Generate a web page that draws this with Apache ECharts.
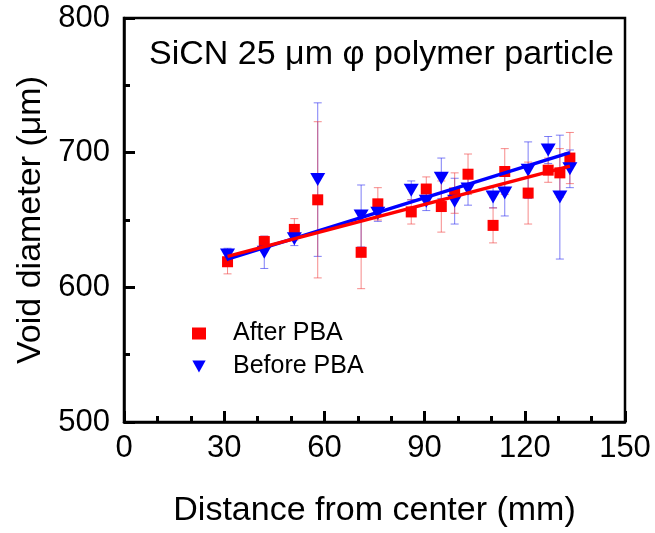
<!DOCTYPE html>
<html>
<head>
<meta charset="utf-8">
<script src="https://cdn.jsdelivr.net/npm/echarts@6/dist/echarts.min.js"></script>
<style>
html,body{margin:0;padding:0;background:#fff;}
#chart{width:655px;height:533px;}
</style>
</head>
<body>
<div id="chart"></div>
<script>
var distance = [31, 42, 51, 58, 71, 76, 86, 90.5, 95, 99, 103, 110.5, 114, 121, 127, 130.5, 133.5];
var afterPBA = [619, 634, 643, 665, 626, 662, 656, 673, 660, 670, 684, 646, 686, 670, 687, 685, 696];
var afterErr = [9, 4, 8, 58, 27, 12, 9, 9, 19, 15, 15, 13, 17, 23, 9, 18, 19];
var beforePBA = [624, 626, 636, 680, 653, 655, 672, 664, 681, 664, 673, 667, 670, 687, 702, 667, 688];
var beforeErr = [5, 12, 5, 57, 23, 6, 7, 7, 15, 17, 12, 8, 17, 21, 10, 46, 14];
var afterFit = [[31, 623], [133.5, 690]];
var beforeFit = [[31, 621], [133.5, 700]];
var xTicks = [0, 30, 60, 90, 120, 150];
var yTicks = [500, 600, 700, 800];

var FONT = 'Liberation Sans, Arial, sans-serif';
function pts(ys) { return distance.map(function (d, i) { return [d, ys[i]]; }); }
function errPts(ys, es) { return distance.map(function (d, i) { return [d, ys[i], es[i]]; }); }

function errRender(color) {
  return function (params, api) {
    var x = api.value(0), y = api.value(1), e = api.value(2);
    var hi = api.coord([x, y + e]);
    var lo = api.coord([x, y - e]);
    var cw = 4;
    var st = { stroke: color, lineWidth: 1 };
    return {
      type: 'group',
      children: [
        { type: 'line', shape: { x1: hi[0], y1: hi[1], x2: lo[0], y2: lo[1] }, style: st },
        { type: 'line', shape: { x1: hi[0] - cw, y1: hi[1], x2: hi[0] + cw, y2: hi[1] }, style: st },
        { type: 'line', shape: { x1: lo[0] - cw, y1: lo[1], x2: lo[0] + cw, y2: lo[1] }, style: st }
      ]
    };
  };
}

var downTri = 'path://M0,0 L10,0 L5,9 Z';

var chart = echarts.init(document.getElementById('chart'), null, { renderer: 'canvas' });
chart.setOption({
  animation: false,
  textStyle: { fontFamily: FONT },
  title: {
    text: 'SiCN 25 μm φ polymer particle',
    left: 144, top: 33,
    textStyle: { fontFamily: FONT, fontSize: 34, fontWeight: 'normal', color: '#000' }
  },
  legend: {
    orient: 'vertical',
    left: 187, top: 316,
    itemWidth: 14, itemHeight: 12, itemGap: 8,
    textStyle: { fontFamily: FONT, fontSize: 25, color: '#000', padding: [0, 0, 0, 22] },
    data: [
      { name: 'After PBA', icon: 'rect', itemStyle: { color: '#f00' } },
      { name: 'Before PBA', icon: downTri, itemStyle: { color: '#00f' } }
    ]
  },
  grid: {
    left: 124, right: 30, top: 18, bottom: 110,
    show: true, borderColor: '#000', borderWidth: 2.5, backgroundColor: 'transparent'
  },
  xAxis: {
    type: 'value', min: xTicks[0], max: xTicks[xTicks.length - 1], interval: 30,
    name: 'Distance from center (mm)', nameLocation: 'middle', nameGap: 72,
    nameTextStyle: { fontFamily: FONT, fontSize: 34, color: '#000' },
    axisLine: { show: true, onZero: false, lineStyle: { color: '#000', width: 2.5 } },
    axisTick: { show: true, inside: true, length: 11, lineStyle: { color: '#000', width: 3 } },
    minorTick: { show: true, splitNumber: 3, length: 6, lineStyle: { color: '#000', width: 3 } },
    axisLabel: { fontFamily: FONT, fontSize: 31, color: '#000', margin: 11 },
    splitLine: { show: false }
  },
  yAxis: {
    type: 'value', min: yTicks[0], max: yTicks[yTicks.length - 1], interval: 100,
    name: 'Void diameter (μm)', nameLocation: 'middle', nameGap: 76,
    nameTextStyle: { fontFamily: FONT, fontSize: 34, color: '#000' },
    axisLine: { show: true, onZero: false, lineStyle: { color: '#000', width: 2.5 } },
    axisTick: { show: true, inside: true, length: 11, lineStyle: { color: '#000', width: 3 } },
    minorTick: { show: true, splitNumber: 2, length: 6, lineStyle: { color: '#000', width: 3 } },
    axisLabel: { fontFamily: FONT, fontSize: 31, color: '#000', margin: 14 },
    splitLine: { show: false }
  },
  series: [
    {
      type: 'custom', name: 'beforeErr', renderItem: errRender('rgba(40,40,240,0.6)'),
      data: errPts(beforePBA, beforeErr), z: 1, silent: true
    },
    {
      type: 'custom', name: 'afterErr', renderItem: errRender('rgba(240,60,60,0.6)'),
      data: errPts(afterPBA, afterErr), z: 1, silent: true
    },
    {
      type: 'scatter', name: 'After PBA', symbol: 'rect', symbolSize: 11,
      itemStyle: { color: '#f00', opacity: 1 }, data: pts(afterPBA), z: 3
    },
    {
      type: 'scatter', name: 'Before PBA', symbol: downTri, symbolSize: [15, 13],
      itemStyle: { color: '#00f', opacity: 1 }, data: pts(beforePBA), z: 3
    },
    {
      type: 'line', name: 'beforeFit', data: beforeFit, symbol: 'none',
      lineStyle: { color: '#00f', width: 3.5 }, z: 4, silent: true
    },
    {
      type: 'line', name: 'afterFit', data: afterFit, symbol: 'none',
      lineStyle: { color: '#f00', width: 3.5 }, z: 4, silent: true
    }
  ]
});
</script>
</body>
</html>
